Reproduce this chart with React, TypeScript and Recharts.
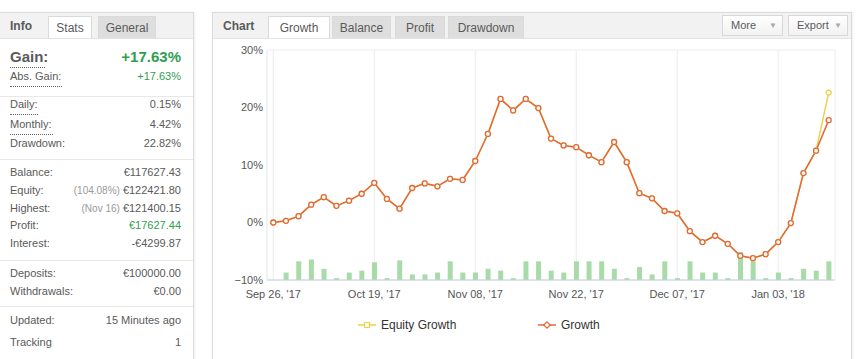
import React from 'react';
import { ComposedChart, Bar, Line, XAxis, YAxis, CartesianGrid } from 'recharts';

// growth in %, one value per point (left to right)
const growth = [
  0, 0.3, 1.1, 3.1, 4.4, 2.9, 3.8, 5.0, 6.9, 4.1, 2.4, 6.0, 6.8, 6.3, 7.6, 7.4,
  10.7, 15.4, 21.5, 19.5, 21.5, 19.9, 14.6, 13.4, 13.1, 11.7, 10.5, 14.0, 10.5,
  5.1, 4.2, 2.0, 1.6, -1.5, -3.4, -2.3, -3.7, -5.8, -6.2, -5.5, -3.4, -0.1, 8.6,
  12.5, 17.8,
];
const equityGrowth = [
  0, 0.3, 1.1, 3.1, 4.4, 2.9, 3.8, 5.0, 6.9, 4.1, 2.4, 6.0, 6.8, 6.3, 7.6, 7.4,
  10.7, 15.4, 21.5, 19.5, 21.5, 19.9, 14.6, 13.4, 13.1, 11.7, 10.5, 14.0, 10.5,
  5.1, 4.2, 2.0, 1.6, -1.5, -3.4, -2.3, -3.7, -5.8, -6.2, -5.5, -3.4, -0.1, 8.6,
  12.5, 22.6,
];
// activity bars along the bottom (relative units)
const activity = [
  0, 4, 10, 11, 6, 1, 4, 5, 9.5, 1, 10.5, 3, 3, 4, 10, 4, 4, 6, 5, 1, 10, 10, 5,
  4, 10, 10, 10, 6, 1, 7, 3, 10, 1, 10, 4, 4, 1, 15, 10, 1, 4, 1, 6, 5, 10,
];
const tickIndex = [0, 8, 16, 24, 32, 40];
const tickLabels = ["Sep 26, '17", "Oct 19, '17", "Nov 08, '17", "Nov 22, '17", "Dec 07, '17", "Jan 03, '18"];
const yTicks = [-10, 0, 10, 20, 30];

const stats = [
  { label: 'Abs. Gain:', value: '+17.63%', top: 70, green: true, dotted: 52 },
  { label: 'Daily:', value: '0.15%', top: 98, dotted: 28 },
  { label: 'Monthly:', value: '4.42%', top: 118, dotted: 43 },
  { label: 'Drawdown:', value: '22.82%', top: 137 },
  { label: 'Balance:', value: '€117627.43', top: 166 },
  { label: 'Equity:', value: '€122421.80', note: '(104.08%)', top: 184 },
  { label: 'Highest:', value: '€121400.15', note: '(Nov 16)', top: 202 },
  { label: 'Profit:', value: '€17627.44', top: 219, green: true },
  { label: 'Interest:', value: '-€4299.87', top: 237 },
  { label: 'Deposits:', value: '€100000.00', top: 267 },
  { label: 'Withdrawals:', value: '€0.00', top: 285 },
  { label: 'Updated:', value: '15 Minutes ago', top: 314 },
  { label: 'Tracking', value: '1', top: 336 },
];
const separators = [96, 159, 260, 306];

const data = growth.map((g, i) => ({ idx: i, growth: g, equity: equityGrowth[i], activity: activity[i] }));

const GREEN = '#2f9e4f';
const TEXT = '#5a5a5a';
const FONT = '"Liberation Sans", Arial, sans-serif';

const tab = (left: number, width: number, active: boolean): React.CSSProperties => ({
  position: 'absolute', left, top: 16, width, height: 22, boxSizing: 'border-box',
  background: active ? '#fff' : '#dedede', border: '1px solid #dadada', borderBottom: 'none',
  fontSize: 12, color: TEXT, textAlign: 'center', lineHeight: '22px',
});

const LegendItem = ({ left, color, label, shape }: { left: number; color: string; label: string; shape: 'square' | 'diamond' }) => (
  <div style={{ position: 'absolute', left, top: 317, height: 16, display: 'flex', alignItems: 'center' }}>
    <svg width={18} height={10}>
      <line x1={0} y1={5} x2={18} y2={5} stroke={color} strokeWidth={1.5} />
      {shape === 'square' ? (
        <rect x={6.5} y={2.5} width={5} height={5} fill="#fff" stroke={color} strokeWidth={1.2} />
      ) : (
        <path d="M9 1.8 L12.2 5 L9 8.2 L5.8 5 Z" fill="#fff" stroke={color} strokeWidth={1.2} />
      )}
    </svg>
    <span style={{ marginLeft: 5, fontSize: 12, color: '#333' }}>{label}</span>
  </div>
);

const Button = ({ left, width, text }: { left: number; width: number; text: string }) => (
  <div style={{
    position: 'absolute', left, top: 15, width, height: 21, boxSizing: 'border-box',
    border: '1px solid #d8d8d8', background: 'linear-gradient(#fff, #f2f2f2)', fontSize: 11, color: TEXT,
    lineHeight: '19px', paddingLeft: 8,
  }}>
    {text}
    <span style={{ position: 'absolute', right: 5, top: 0, fontSize: 8, color: '#aaa' }}>▼</span>
  </div>
);

export default function App() {
  return (
    <div style={{ position: 'absolute', left: 0, top: 0, width: 860, height: 359, background: '#fff', fontFamily: FONT, overflow: 'hidden' }}>
      {/* left stats panel */}
      <div style={{ position: 'absolute', left: -1, top: 12, width: 195, height: 360, border: '1px solid #dcdcdc', boxShadow: '1px 0 2px rgba(0,0,0,0.07)', boxSizing: 'border-box' }} />
      <div style={{ position: 'absolute', left: 0, top: 13, width: 193, height: 25, background: '#f2f2f2', borderBottom: '1px solid #e4e4e4' }} />
      <div style={{ position: 'absolute', left: 10, top: 19, fontSize: 12, fontWeight: 'bold', color: TEXT }}>Info</div>
      <div style={tab(48, 44, true)}>Stats</div>
      <div style={tab(98, 58, false)}>General</div>

      <div style={{ position: 'absolute', left: 10, top: 48, fontSize: 15, fontWeight: 'bold', color: TEXT }}>Gain:</div>
      <div style={{ position: 'absolute', left: 10, top: 67, width: 35, borderTop: '1px dotted #666' }} />
      <div style={{ position: 'absolute', right: 860 - 181, top: 48, fontSize: 15, fontWeight: 'bold', color: GREEN }}>+17.63%</div>
      {stats.map((s) => (
        <React.Fragment key={s.label}>
          <div style={{ position: 'absolute', left: 10, top: s.top, fontSize: 11, color: TEXT }}>{s.label}</div>
          {s.dotted ? <div style={{ position: 'absolute', left: 10, top: s.top + 16, width: s.dotted, borderTop: '1px dotted #666' }} /> : null}
          <div style={{ position: 'absolute', right: 860 - 181, top: s.top, fontSize: 11, color: s.green ? GREEN : TEXT, whiteSpace: 'nowrap' }}>
            {s.note ? <span style={{ color: '#999', fontSize: 10, marginRight: 3 }}>{s.note}</span> : null}
            {s.value}
          </div>
        </React.Fragment>
      ))}
      {separators.map((y) => (
        <div key={y} style={{ position: 'absolute', left: 0, top: y, width: 193, borderTop: '1px solid #e8e8e8' }} />
      ))}

      {/* right chart panel */}
      <div style={{ position: 'absolute', left: 212, top: 12, width: 640, height: 360, border: '1px solid #dcdcdc', boxShadow: '1px 0 2px rgba(0,0,0,0.07)', boxSizing: 'border-box' }} />
      <div style={{ position: 'absolute', left: 213, top: 13, width: 638, height: 25, background: '#f2f2f2', borderBottom: '1px solid #e4e4e4' }} />
      <div style={{ position: 'absolute', left: 223, top: 19, fontSize: 12, fontWeight: 'bold', color: TEXT }}>Chart</div>
      <div style={tab(268, 62, true)}>Growth</div>
      <div style={tab(332, 59, false)}>Balance</div>
      <div style={tab(395, 50, false)}>Profit</div>
      <div style={tab(448, 76, false)}>Drawdown</div>
      <Button left={722} width={61} text="More" />
      <Button left={788} width={60} text="Export" />

      <div style={{ position: 'absolute', left: 213, top: 40 }}>
        <ComposedChart width={640} height={319} data={data} margin={{ top: 10, right: 18, bottom: 0, left: 0 }}>
          <CartesianGrid stroke="#ececec" />
          <XAxis
            dataKey="idx"
            ticks={tickIndex}
            tickFormatter={(v) => tickLabels[tickIndex.indexOf(v)]}
            interval={0}
            height={79}
            tickLine={false}
            tickSize={0}
            tickMargin={10}
            axisLine={{ stroke: '#c0d0e0' }}
            tick={{ fontSize: 11, fill: '#555', fontFamily: FONT }}
          />
          <YAxis
            yAxisId="pct"
            domain={[-10, 30]}
            ticks={yTicks}
            width={54}
            tickLine={false}
            tickSize={0}
            tickMargin={4}
            axisLine={{ stroke: '#eeeeee' }}
            tickFormatter={(v) => (v < 0 ? `\u2212${-v}%` : `${v}%`)}
            tick={{ fontSize: 11, fill: '#555', fontFamily: FONT }}
          />
          <YAxis yAxisId="act" orientation="right" domain={[0, 123.2]} width={0} tick={false} tickLine={false} axisLine={{ stroke: '#eeeeee' }} />
          <Bar yAxisId="act" dataKey="activity" fill="#a8dba8" barSize={5} isAnimationActive={false} />
          <Line
            yAxisId="pct"
            dataKey="equity"
            stroke="#ecd34f"
            strokeWidth={1.5}
            dot={{ r: 2.5, fill: '#fff', stroke: '#ecd34f', strokeWidth: 1.3 }}
            isAnimationActive={false}
          />
          <Line
            yAxisId="pct"
            dataKey="growth"
            stroke="#e2683a"
            strokeWidth={1.5}
            dot={{ r: 2.5, fill: '#fff', stroke: '#e2683a', strokeWidth: 1.3 }}
            isAnimationActive={false}
          />
        </ComposedChart>
      </div>

      <LegendItem left={358} color="#ecd34f" label="Equity Growth" shape="square" />
      <LegendItem left={538} color="#e2683a" label="Growth" shape="diamond" />
    </div>
  );
}
